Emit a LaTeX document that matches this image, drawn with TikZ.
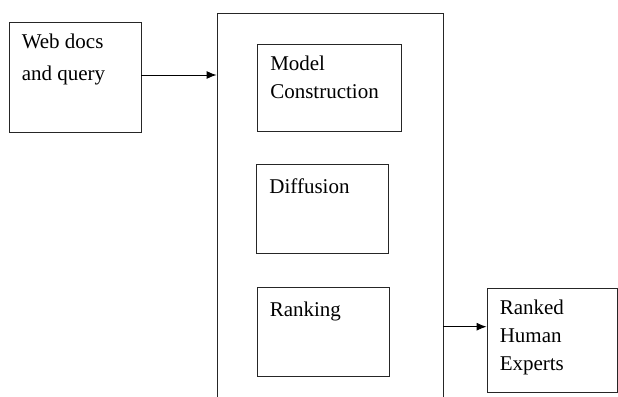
\documentclass[tikz,border=0pt]{standalone}
\usepackage{fontspec}
\setmainfont{Liberation Serif}
\usetikzlibrary{arrows.meta}

\begin{document}
\begin{tikzpicture}[x=1pt, y=-1pt, >={Latex[length=10pt,width=8pt]},
    box/.style={draw=black!85, line width=0.9pt, inner sep=0pt},
    txt/.style={anchor=north west, align=left, inner xsep=13pt, inner ysep=12.5pt,
        font=\fontsize{21}{28}\selectfont}]
            \useasboundingbox (0,0) rectangle (618,396);
            \clip (0,0) rectangle (618,396);

            \node[box, minimum width=132pt, minimum height=110pt,
                label={[txt, font=\fontsize{21}{32}\selectfont]north west:Web docs\\and query}] (web) at (75,77) {};
            \node[box, minimum width=226pt, minimum height=410pt] (core) at (330,218) {};
            \node[box, minimum width=144pt, minimum height=87pt,
                label={[txt]north west:Model\\Construction}] (model) at (329.5,87.5) {};
            \node[box, minimum width=132pt, minimum height=89pt,
                label={[txt, inner ysep=14.5pt]north west:Diffusion}] (diffusion) at (322.7,209.3) {};
            \node[box, minimum width=132pt, minimum height=89pt,
                label={[txt, inner ysep=14.5pt]north west:Ranking}] (ranking) at (323,332.2) {};
            \node[box, minimum width=130pt, minimum height=104pt,
                label={[txt, inner ysep=11.5pt]north west:Ranked\\Human\\Experts}] (experts) at (552,340.5) {};

            \coordinate (webout) at ([yshift=2pt]web.east);
            \coordinate (expin) at ([yshift=13.8pt]experts.west);
            \draw[->, line width=0.9pt] (webout) -- (webout -| core.west);
            \draw[->, line width=0.9pt] (core.east |- expin) -- (expin);
\end{tikzpicture}
\end{document}
